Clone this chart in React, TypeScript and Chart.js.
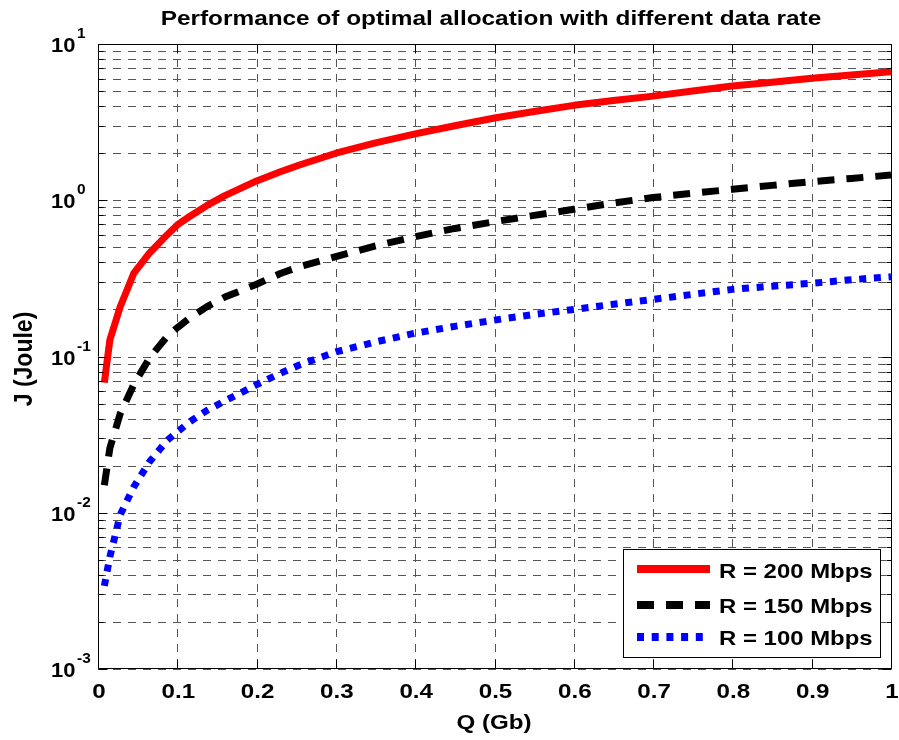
import React, { useEffect, useRef } from "react";
import { Chart, registerables } from "chart.js";

Chart.register(...registerables);

// ---------- data ----------
const TITLE = "Performance of optimal allocation with different data rate";
const X_TITLE = "Q (Gb)";
const Y_TITLE = "J (Joule)";

const qValues = [
  0.008, 0.015, 0.028, 0.045, 0.065, 0.087, 0.1, 0.116, 0.137, 0.16, 0.2, 0.23, 0.254,
  0.3, 0.35, 0.4, 0.45, 0.5, 0.55, 0.6, 0.65, 0.7, 0.75, 0.8, 0.85, 0.9, 0.95, 1.0,
];
const j200 = [
  0.068, 0.128, 0.208, 0.34, 0.46, 0.6, 0.695, 0.79, 0.923, 1.07, 1.33, 1.52, 1.68,
  2.0, 2.33, 2.66, 3.0, 3.36, 3.7, 4.05, 4.35, 4.64, 5.0, 5.38, 5.7, 6.03, 6.33, 6.65,
];
const j150 = [
  0.015, 0.026, 0.043, 0.066, 0.098, 0.134, 0.153, 0.177, 0.208, 0.24, 0.29, 0.34, 0.376,
  0.436, 0.51, 0.585, 0.66, 0.729, 0.8, 0.875, 0.96, 1.04, 1.11, 1.175, 1.245, 1.316, 1.38, 1.45,
];
const j100 = [
  0.0034, 0.00523, 0.0097, 0.0146, 0.0212, 0.029, 0.0329, 0.0383, 0.045, 0.052, 0.066, 0.078, 0.0883,
  0.107, 0.124, 0.141, 0.156, 0.171, 0.186, 0.2, 0.216, 0.232, 0.25, 0.269, 0.282, 0.294, 0.31, 0.324,
];
const seriesLabels = ["R = 200 Mbps", "R = 150 Mbps", "R = 100 Mbps"];

const xTickValues = [0, 0.1, 0.2, 0.3, 0.4, 0.5, 0.6, 0.7, 0.8, 0.9, 1];
const xTickLabels = ["0", "0.1", "0.2", "0.3", "0.4", "0.5", "0.6", "0.7", "0.8", "0.9", "1"];
const yDecadeExponents = [-3, -2, -1, 0, 1];
const yMinorMultipliers = [1, 2, 3, 4, 5, 6, 7, 8, 9];

// ---------- styling ----------
const FONT = '"Liberation Sans", Arial, Helvetica, sans-serif';
const SX = 1.15; // horizontal glyph stretch seen in the reference

function drawText(
  ctx: CanvasRenderingContext2D,
  text: string,
  x: number,
  y: number,
  size: number,
  align: CanvasTextAlign,
  sx: number = SX
) {
  ctx.save();
  ctx.translate(x, y);
  ctx.scale(sx, 1);
  ctx.font = `bold ${size}px ${FONT}`;
  ctx.textAlign = align;
  ctx.textBaseline = "alphabetic";
  ctx.fillStyle = "#000";
  ctx.fillText(text, 0, 0);
  ctx.restore();
}

const decorPlugin = {
  id: "decor",
  beforeDatasetsDraw(chart: any) {
    const { ctx, chartArea: a, scales } = chart;
    const xs = scales.x;
    const ys = scales.y;
    ctx.save();
    ctx.strokeStyle = "rgb(85,85,85)";
    ctx.lineWidth = 1;
    ctx.setLineDash([8, 7]);
    ctx.beginPath();
    for (const e of yDecadeExponents) {
      for (const m of yMinorMultipliers) {
        const v = m * Math.pow(10, e);
        if (v > 10.0001) break;
        const py = Math.round(ys.getPixelForValue(v)) + 0.5;
        ctx.moveTo(a.left, py);
        ctx.lineTo(a.right, py);
      }
    }
    for (const xv of xTickValues) {
      const px = Math.round(xs.getPixelForValue(xv)) + 0.5;
      ctx.moveTo(px, a.top);
      ctx.lineTo(px, a.bottom);
    }
    ctx.stroke();
    ctx.restore();
  },
  afterDatasetsDraw(chart: any) {
    const { ctx, chartArea: a, scales } = chart;
    const xs = scales.x;
    const ys = scales.y;
    ctx.save();
    ctx.setLineDash([]);
    ctx.strokeStyle = "#000";
    ctx.lineWidth = 1;
    // box
    const L = Math.round(a.left) + 0.5;
    const R = Math.round(a.right) + 0.5;
    const T = Math.round(a.top) + 0.5;
    const B = Math.round(a.bottom) - 0.5;
    ctx.beginPath();
    ctx.rect(L, T, R - L, B - T);
    // tick marks
    for (const xv of xTickValues) {
      const px = Math.round(xs.getPixelForValue(xv)) + 0.5;
      ctx.moveTo(px, B);
      ctx.lineTo(px, B - 9);
      ctx.moveTo(px, T);
      ctx.lineTo(px, T + 9);
    }
    for (const e of yDecadeExponents) {
      for (const m of yMinorMultipliers) {
        const v = m * Math.pow(10, e);
        if (v > 10.0001) break;
        const py = Math.round(ys.getPixelForValue(v)) + 0.5;
        const len = m === 1 ? 9 : 5;
        ctx.moveTo(L, py);
        ctx.lineTo(L + len, py);
        ctx.moveTo(R, py);
        ctx.lineTo(R - len, py);
      }
    }
    ctx.stroke();

    // x tick labels
    xTickValues.forEach((xv, i) => {
      const px = xs.getPixelForValue(xv);
      drawText(ctx, xTickLabels[i], px + 1, 697.5, 21, "center");
    });
    // y tick labels 10^e
    for (const e of yDecadeExponents) {
      const py = ys.getPixelForValue(Math.pow(10, e));
      drawText(ctx, "10", 75.5, py + 8, 20, "right", 1.1);
      drawText(ctx, String(e), 77, py - 6, 14, "left", 1.1);
    }

    // title and axis titles
    drawText(ctx, TITLE, 491, 25, 21, "center", 1.16);
    drawText(ctx, X_TITLE, 494, 729, 21, "center");
    ctx.save();
    ctx.translate(31.5, 359);
    ctx.rotate(-Math.PI / 2);
    ctx.scale(1, 1.1);
    ctx.font = `bold 23px ${FONT}`;
    ctx.textAlign = "center";
    ctx.textBaseline = "alphabetic";
    ctx.fillStyle = "#000";
    ctx.fillText(Y_TITLE, 0, 0);
    ctx.restore();

    // legend
    const lx = 623.5, ly = 549.5, lw = 257, lh = 108;
    ctx.fillStyle = "#fff";
    ctx.fillRect(lx, ly, lw, lh);
    ctx.strokeStyle = "#000";
    ctx.lineWidth = 1;
    ctx.setLineDash([]);
    ctx.strokeRect(lx, ly, lw, lh);
    const rowLine = [569, 605, 637];
    const rowBase = [577.5, 612.5, 644.5];
    chart.data.datasets.forEach((ds: any, i: number) => {
      ctx.save();
      ctx.beginPath();
      ctx.rect(637, rowLine[i] - 6, 73, 12);
      ctx.clip();
      ctx.beginPath();
      ctx.strokeStyle = ds.borderColor;
      ctx.lineWidth = 8;
      ctx.lineCap = "butt";
      ctx.setLineDash(ds.borderDash || []);
      ctx.moveTo(637, rowLine[i]);
      ctx.lineTo(710, rowLine[i]);
      ctx.stroke();
      ctx.restore();
      drawText(ctx, ds.label, 719, rowBase[i], 21, "left", 1.14);
    });
    ctx.restore();
  },
};

export default function App() {
  const canvasRef = useRef<HTMLCanvasElement | null>(null);

  useEffect(() => {
    const canvas = canvasRef.current;
    if (!canvas) return;
    const mk = (vals: number[]) => qValues.map((q, i) => ({ x: q, y: vals[i] }));
    const chart = new Chart(canvas, {
      type: "line",
      data: {
        datasets: [
          {
            label: seriesLabels[0],
            data: mk(j200),
            borderColor: "#ff0000",
            borderWidth: 7,
            borderDash: [],
            pointRadius: 0,
            tension: 0,
            borderCapStyle: "butt",
            borderJoinStyle: "round",
          },
          {
            label: seriesLabels[1],
            data: mk(j150),
            borderColor: "#000000",
            borderWidth: 7,
            borderDash: [17, 12],
            pointRadius: 0,
            tension: 0,
            borderCapStyle: "butt",
            borderJoinStyle: "round",
          },
          {
            label: seriesLabels[2],
            data: mk(j100),
            borderColor: "#0000ff",
            borderWidth: 7,
            borderDash: [7, 7.7],
            pointRadius: 0,
            tension: 0,
            borderCapStyle: "butt",
            borderJoinStyle: "round",
          },
        ],
      },
      options: {
        animation: false,
        responsive: false,
        maintainAspectRatio: false,
        devicePixelRatio: 1,
        events: [],
        layout: { padding: { left: 98, top: 44, right: 8, bottom: 71 } },
        plugins: {
          legend: { display: false },
          title: { display: false },
          tooltip: { enabled: false },
        },
        scales: {
          x: { type: "linear", min: 0, max: 1, display: false },
          y: { type: "logarithmic", min: 0.001, max: 10, display: false },
        },
      } as any,
      plugins: [decorPlugin as any],
    });
    return () => chart.destroy();
  }, []);

  return (
    <div style={{ position: "absolute", left: 0, top: 0, width: 899, height: 740, background: "#fff" }}>
      <canvas ref={canvasRef} width={899} height={740} style={{ display: "block", width: 899, height: 740 }} />
    </div>
  );
}
